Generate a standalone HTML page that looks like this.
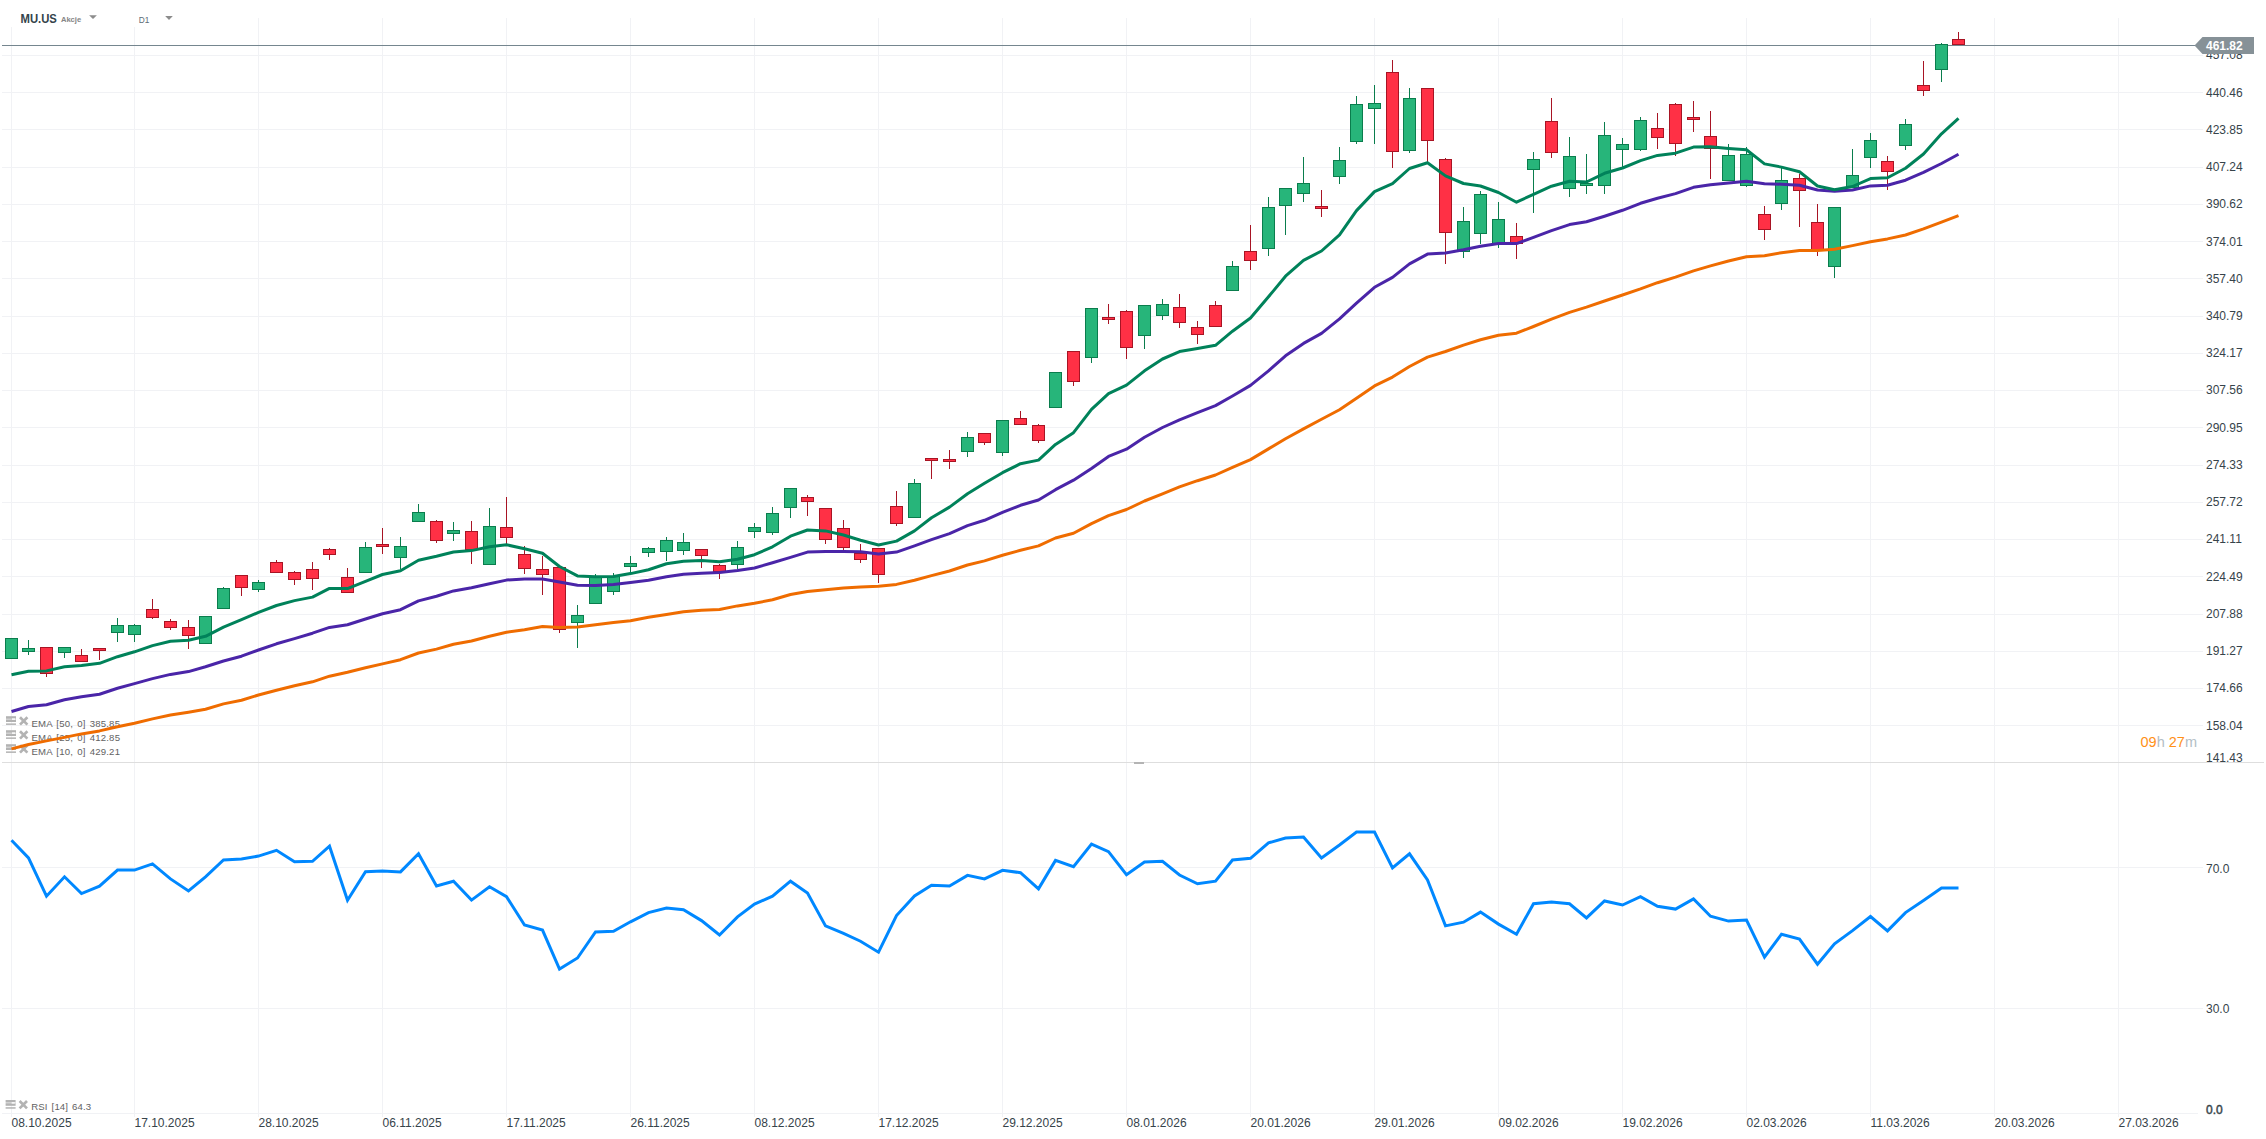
<!DOCTYPE html>
<html lang="pl"><head><meta charset="utf-8"><title>MU.US D1</title>
<style>html,body{margin:0;padding:0;background:#fff;overflow:hidden}svg{display:block}</style>
</head><body>
<svg width="2266" height="1139" viewBox="0 0 2266 1139" font-family='"Liberation Sans", Arial, sans-serif'>
<rect width="2266" height="1139" fill="#fff"/>
<g fill="#f1f2f5" shape-rendering="crispEdges">
<rect x="2" y="55" width="2201" height="1"/>
<rect x="2" y="92" width="2201" height="1"/>
<rect x="2" y="129" width="2201" height="1"/>
<rect x="2" y="167" width="2201" height="1"/>
<rect x="2" y="204" width="2201" height="1"/>
<rect x="2" y="241" width="2201" height="1"/>
<rect x="2" y="278" width="2201" height="1"/>
<rect x="2" y="316" width="2201" height="1"/>
<rect x="2" y="353" width="2201" height="1"/>
<rect x="2" y="390" width="2201" height="1"/>
<rect x="2" y="427" width="2201" height="1"/>
<rect x="2" y="465" width="2201" height="1"/>
<rect x="2" y="502" width="2201" height="1"/>
<rect x="2" y="539" width="2201" height="1"/>
<rect x="2" y="576" width="2201" height="1"/>
<rect x="2" y="614" width="2201" height="1"/>
<rect x="2" y="651" width="2201" height="1"/>
<rect x="2" y="688" width="2201" height="1"/>
<rect x="2" y="725" width="2201" height="1"/>
<rect x="2" y="867" width="2201" height="1"/>
<rect x="2" y="1008" width="2201" height="1"/>
<rect x="2" y="1113" width="2196" height="1"/>
<rect x="11" y="18" width="1" height="1099"/>
<rect x="134" y="18" width="1" height="1099"/>
<rect x="258" y="18" width="1" height="1099"/>
<rect x="382" y="18" width="1" height="1099"/>
<rect x="506" y="18" width="1" height="1099"/>
<rect x="630" y="18" width="1" height="1099"/>
<rect x="754" y="18" width="1" height="1099"/>
<rect x="878" y="18" width="1" height="1099"/>
<rect x="1002" y="18" width="1" height="1099"/>
<rect x="1126" y="18" width="1" height="1099"/>
<rect x="1250" y="18" width="1" height="1099"/>
<rect x="1374" y="18" width="1" height="1099"/>
<rect x="1498" y="18" width="1" height="1099"/>
<rect x="1622" y="18" width="1" height="1099"/>
<rect x="1746" y="18" width="1" height="1099"/>
<rect x="1870" y="18" width="1" height="1099"/>
<rect x="1994" y="18" width="1" height="1099"/>
<rect x="2118" y="18" width="1" height="1099"/>
</g>
<rect x="0" y="0" width="190" height="27" fill="#fff"/>
<rect x="2" y="762" width="2262" height="1" fill="#dedede" shape-rendering="crispEdges"/>
<rect x="1134" y="762" width="10" height="2" fill="#b4b4b4" shape-rendering="crispEdges"/>
<rect x="2" y="45" width="2196" height="1" fill="#75868f" shape-rendering="crispEdges"/>
<g fill="#b3b3b3"><rect x="6" y="716.1999999999999" width="10" height="2.6"/><rect x="6" y="719.4" width="10" height="2.6"/><rect x="6" y="723.4" width="10" height="1.5"/><rect x="12" y="718.4" width="3.2" height="1.4" fill="#fff"/></g><path d="M20 717.1999999999999L27.4 724.5999999999999M27.4 717.1999999999999L20 724.5999999999999" stroke="#b3b3b3" stroke-width="2.7" fill="none"/>
<text x="31.4" y="726.8" font-size="9.6" fill="#626262" word-spacing="1.2" textLength="88.6" lengthAdjust="spacing">EMA [50, 0] 385.85</text>
<g fill="#b3b3b3"><rect x="6" y="730.1999999999999" width="10" height="2.6"/><rect x="6" y="733.4" width="10" height="2.6"/><rect x="6" y="737.4" width="10" height="1.5"/><rect x="12" y="732.4" width="3.2" height="1.4" fill="#fff"/></g><path d="M20 731.1999999999999L27.4 738.5999999999999M27.4 731.1999999999999L20 738.5999999999999" stroke="#b3b3b3" stroke-width="2.7" fill="none"/>
<text x="31.4" y="740.8" font-size="9.6" fill="#626262" word-spacing="1.2" textLength="88.6" lengthAdjust="spacing">EMA [25, 0] 412.85</text>
<g fill="#b3b3b3"><rect x="6" y="744.1999999999999" width="10" height="2.6"/><rect x="6" y="747.4" width="10" height="2.6"/><rect x="6" y="751.4" width="10" height="1.5"/><rect x="12" y="746.4" width="3.2" height="1.4" fill="#fff"/></g><path d="M20 745.1999999999999L27.4 752.5999999999999M27.4 745.1999999999999L20 752.5999999999999" stroke="#b3b3b3" stroke-width="2.7" fill="none"/>
<text x="31.4" y="754.8" font-size="9.6" fill="#626262" word-spacing="1.2" textLength="88.6" lengthAdjust="spacing">EMA [10, 0] 429.21</text>
<g fill="#b3b3b3"><rect x="5.6" y="1100" width="10" height="2.6"/><rect x="5.6" y="1103.2" width="10" height="2.6"/><rect x="5.6" y="1107.2" width="10" height="1.5"/><rect x="11.6" y="1102.2" width="3.2" height="1.4" fill="#fff"/></g><path d="M19.6 1101L27.0 1108.4M27.0 1101L19.6 1108.4" stroke="#b3b3b3" stroke-width="2.7" fill="none"/>
<text x="31.3" y="1110.4" font-size="9.6" fill="#626262" word-spacing="1.2" textLength="59.8" lengthAdjust="spacing">RSI [14] 64.3</text>
<g shape-rendering="crispEdges">
<rect x="11" y="638" width="1" height="21" fill="#0a7d4d"/>
<rect x="5" y="638" width="13" height="21" fill="#0a7d4d"/>
<rect x="6" y="639" width="11" height="19" fill="#27b57a"/>
<rect x="28" y="640" width="1" height="15" fill="#0a7d4d"/>
<rect x="22" y="648" width="13" height="4" fill="#0a7d4d"/>
<rect x="23" y="649" width="11" height="2" fill="#27b57a"/>
<rect x="46" y="647" width="1" height="30" fill="#a81424"/>
<rect x="40" y="647" width="13" height="27" fill="#a81424"/>
<rect x="41" y="648" width="11" height="25" fill="#ff3045"/>
<rect x="64" y="647" width="1" height="11" fill="#0a7d4d"/>
<rect x="58" y="647" width="13" height="6" fill="#0a7d4d"/>
<rect x="59" y="648" width="11" height="4" fill="#27b57a"/>
<rect x="81" y="649" width="1" height="13" fill="#a81424"/>
<rect x="75" y="655" width="13" height="7" fill="#a81424"/>
<rect x="76" y="656" width="11" height="5" fill="#ff3045"/>
<rect x="99" y="648" width="1" height="12" fill="#a81424"/>
<rect x="93" y="648" width="13" height="3" fill="#a81424"/>
<rect x="94" y="649" width="11" height="1" fill="#ff3045"/>
<rect x="117" y="618" width="1" height="24" fill="#0a7d4d"/>
<rect x="111" y="625" width="13" height="8" fill="#0a7d4d"/>
<rect x="112" y="626" width="11" height="6" fill="#27b57a"/>
<rect x="134" y="624" width="1" height="18" fill="#0a7d4d"/>
<rect x="128" y="625" width="13" height="10" fill="#0a7d4d"/>
<rect x="129" y="626" width="11" height="8" fill="#27b57a"/>
<rect x="152" y="599" width="1" height="20" fill="#a81424"/>
<rect x="146" y="609" width="13" height="9" fill="#a81424"/>
<rect x="147" y="610" width="11" height="7" fill="#ff3045"/>
<rect x="170" y="619" width="1" height="11" fill="#a81424"/>
<rect x="164" y="621" width="13" height="7" fill="#a81424"/>
<rect x="165" y="622" width="11" height="5" fill="#ff3045"/>
<rect x="188" y="620" width="1" height="29" fill="#a81424"/>
<rect x="182" y="627" width="13" height="9" fill="#a81424"/>
<rect x="183" y="628" width="11" height="7" fill="#ff3045"/>
<rect x="205" y="616" width="1" height="28" fill="#0a7d4d"/>
<rect x="199" y="616" width="13" height="28" fill="#0a7d4d"/>
<rect x="200" y="617" width="11" height="26" fill="#27b57a"/>
<rect x="223" y="587" width="1" height="22" fill="#0a7d4d"/>
<rect x="217" y="588" width="13" height="21" fill="#0a7d4d"/>
<rect x="218" y="589" width="11" height="19" fill="#27b57a"/>
<rect x="241" y="575" width="1" height="21" fill="#a81424"/>
<rect x="235" y="575" width="13" height="13" fill="#a81424"/>
<rect x="236" y="576" width="11" height="11" fill="#ff3045"/>
<rect x="258" y="580" width="1" height="12" fill="#0a7d4d"/>
<rect x="252" y="582" width="13" height="8" fill="#0a7d4d"/>
<rect x="253" y="583" width="11" height="6" fill="#27b57a"/>
<rect x="276" y="560" width="1" height="13" fill="#a81424"/>
<rect x="270" y="562" width="13" height="11" fill="#a81424"/>
<rect x="271" y="563" width="11" height="9" fill="#ff3045"/>
<rect x="294" y="571" width="1" height="14" fill="#a81424"/>
<rect x="288" y="572" width="13" height="8" fill="#a81424"/>
<rect x="289" y="573" width="11" height="6" fill="#ff3045"/>
<rect x="312" y="562" width="1" height="28" fill="#a81424"/>
<rect x="306" y="569" width="13" height="10" fill="#a81424"/>
<rect x="307" y="570" width="11" height="8" fill="#ff3045"/>
<rect x="329" y="548" width="1" height="12" fill="#a81424"/>
<rect x="323" y="549" width="13" height="6" fill="#a81424"/>
<rect x="324" y="550" width="11" height="4" fill="#ff3045"/>
<rect x="347" y="568" width="1" height="25" fill="#a81424"/>
<rect x="341" y="577" width="13" height="16" fill="#a81424"/>
<rect x="342" y="578" width="11" height="14" fill="#ff3045"/>
<rect x="365" y="542" width="1" height="31" fill="#0a7d4d"/>
<rect x="359" y="547" width="13" height="26" fill="#0a7d4d"/>
<rect x="360" y="548" width="11" height="24" fill="#27b57a"/>
<rect x="382" y="528" width="1" height="26" fill="#a81424"/>
<rect x="376" y="544" width="13" height="3" fill="#a81424"/>
<rect x="377" y="545" width="11" height="1" fill="#ff3045"/>
<rect x="400" y="537" width="1" height="32" fill="#0a7d4d"/>
<rect x="394" y="546" width="13" height="12" fill="#0a7d4d"/>
<rect x="395" y="547" width="11" height="10" fill="#27b57a"/>
<rect x="418" y="504" width="1" height="18" fill="#0a7d4d"/>
<rect x="412" y="512" width="13" height="10" fill="#0a7d4d"/>
<rect x="413" y="513" width="11" height="8" fill="#27b57a"/>
<rect x="436" y="520" width="1" height="23" fill="#a81424"/>
<rect x="430" y="521" width="13" height="20" fill="#a81424"/>
<rect x="431" y="522" width="11" height="18" fill="#ff3045"/>
<rect x="453" y="522" width="1" height="19" fill="#0a7d4d"/>
<rect x="447" y="530" width="13" height="4" fill="#0a7d4d"/>
<rect x="448" y="531" width="11" height="2" fill="#27b57a"/>
<rect x="471" y="521" width="1" height="43" fill="#a81424"/>
<rect x="465" y="531" width="13" height="19" fill="#a81424"/>
<rect x="466" y="532" width="11" height="17" fill="#ff3045"/>
<rect x="489" y="508" width="1" height="57" fill="#0a7d4d"/>
<rect x="483" y="526" width="13" height="39" fill="#0a7d4d"/>
<rect x="484" y="527" width="11" height="37" fill="#27b57a"/>
<rect x="506" y="497" width="1" height="47" fill="#a81424"/>
<rect x="500" y="527" width="13" height="11" fill="#a81424"/>
<rect x="501" y="528" width="11" height="9" fill="#ff3045"/>
<rect x="524" y="546" width="1" height="28" fill="#a81424"/>
<rect x="518" y="554" width="13" height="15" fill="#a81424"/>
<rect x="519" y="555" width="11" height="13" fill="#ff3045"/>
<rect x="542" y="556" width="1" height="39" fill="#a81424"/>
<rect x="536" y="569" width="13" height="6" fill="#a81424"/>
<rect x="537" y="570" width="11" height="4" fill="#ff3045"/>
<rect x="559" y="567" width="1" height="66" fill="#a81424"/>
<rect x="553" y="567" width="13" height="63" fill="#a81424"/>
<rect x="554" y="568" width="11" height="61" fill="#ff3045"/>
<rect x="577" y="605" width="1" height="43" fill="#0a7d4d"/>
<rect x="571" y="615" width="13" height="8" fill="#0a7d4d"/>
<rect x="572" y="616" width="11" height="6" fill="#27b57a"/>
<rect x="595" y="574" width="1" height="30" fill="#0a7d4d"/>
<rect x="589" y="576" width="13" height="28" fill="#0a7d4d"/>
<rect x="590" y="577" width="11" height="26" fill="#27b57a"/>
<rect x="613" y="573" width="1" height="22" fill="#0a7d4d"/>
<rect x="607" y="576" width="13" height="16" fill="#0a7d4d"/>
<rect x="608" y="577" width="11" height="14" fill="#27b57a"/>
<rect x="630" y="556" width="1" height="17" fill="#0a7d4d"/>
<rect x="624" y="563" width="13" height="4" fill="#0a7d4d"/>
<rect x="625" y="564" width="11" height="2" fill="#27b57a"/>
<rect x="648" y="547" width="1" height="10" fill="#0a7d4d"/>
<rect x="642" y="548" width="13" height="5" fill="#0a7d4d"/>
<rect x="643" y="549" width="11" height="3" fill="#27b57a"/>
<rect x="666" y="537" width="1" height="24" fill="#0a7d4d"/>
<rect x="660" y="540" width="13" height="12" fill="#0a7d4d"/>
<rect x="661" y="541" width="11" height="10" fill="#27b57a"/>
<rect x="683" y="533" width="1" height="22" fill="#0a7d4d"/>
<rect x="677" y="542" width="13" height="9" fill="#0a7d4d"/>
<rect x="678" y="543" width="11" height="7" fill="#27b57a"/>
<rect x="701" y="549" width="1" height="19" fill="#a81424"/>
<rect x="695" y="549" width="13" height="7" fill="#a81424"/>
<rect x="696" y="550" width="11" height="5" fill="#ff3045"/>
<rect x="719" y="564" width="1" height="15" fill="#a81424"/>
<rect x="713" y="565" width="13" height="7" fill="#a81424"/>
<rect x="714" y="566" width="11" height="5" fill="#ff3045"/>
<rect x="737" y="541" width="1" height="28" fill="#0a7d4d"/>
<rect x="731" y="547" width="13" height="18" fill="#0a7d4d"/>
<rect x="732" y="548" width="11" height="16" fill="#27b57a"/>
<rect x="754" y="523" width="1" height="15" fill="#0a7d4d"/>
<rect x="748" y="527" width="13" height="5" fill="#0a7d4d"/>
<rect x="749" y="528" width="11" height="3" fill="#27b57a"/>
<rect x="772" y="507" width="1" height="28" fill="#0a7d4d"/>
<rect x="766" y="513" width="13" height="20" fill="#0a7d4d"/>
<rect x="767" y="514" width="11" height="18" fill="#27b57a"/>
<rect x="790" y="488" width="1" height="30" fill="#0a7d4d"/>
<rect x="784" y="488" width="13" height="20" fill="#0a7d4d"/>
<rect x="785" y="489" width="11" height="18" fill="#27b57a"/>
<rect x="807" y="495" width="1" height="21" fill="#a81424"/>
<rect x="801" y="497" width="13" height="5" fill="#a81424"/>
<rect x="802" y="498" width="11" height="3" fill="#ff3045"/>
<rect x="825" y="508" width="1" height="36" fill="#a81424"/>
<rect x="819" y="508" width="13" height="32" fill="#a81424"/>
<rect x="820" y="509" width="11" height="30" fill="#ff3045"/>
<rect x="843" y="520" width="1" height="31" fill="#a81424"/>
<rect x="837" y="528" width="13" height="20" fill="#a81424"/>
<rect x="838" y="529" width="11" height="18" fill="#ff3045"/>
<rect x="860" y="544" width="1" height="19" fill="#a81424"/>
<rect x="854" y="553" width="13" height="7" fill="#a81424"/>
<rect x="855" y="554" width="11" height="5" fill="#ff3045"/>
<rect x="878" y="548" width="1" height="35" fill="#a81424"/>
<rect x="872" y="548" width="13" height="27" fill="#a81424"/>
<rect x="873" y="549" width="11" height="25" fill="#ff3045"/>
<rect x="896" y="491" width="1" height="35" fill="#a81424"/>
<rect x="890" y="506" width="13" height="18" fill="#a81424"/>
<rect x="891" y="507" width="11" height="16" fill="#ff3045"/>
<rect x="914" y="479" width="1" height="39" fill="#0a7d4d"/>
<rect x="908" y="483" width="13" height="35" fill="#0a7d4d"/>
<rect x="909" y="484" width="11" height="33" fill="#27b57a"/>
<rect x="931" y="458" width="1" height="21" fill="#a81424"/>
<rect x="925" y="458" width="13" height="3" fill="#a81424"/>
<rect x="926" y="459" width="11" height="1" fill="#ff3045"/>
<rect x="949" y="450" width="1" height="19" fill="#a81424"/>
<rect x="943" y="459" width="13" height="3" fill="#a81424"/>
<rect x="944" y="460" width="11" height="1" fill="#ff3045"/>
<rect x="967" y="432" width="1" height="25" fill="#0a7d4d"/>
<rect x="961" y="437" width="13" height="15" fill="#0a7d4d"/>
<rect x="962" y="438" width="11" height="13" fill="#27b57a"/>
<rect x="984" y="433" width="1" height="12" fill="#a81424"/>
<rect x="978" y="433" width="13" height="10" fill="#a81424"/>
<rect x="979" y="434" width="11" height="8" fill="#ff3045"/>
<rect x="1002" y="420" width="1" height="36" fill="#0a7d4d"/>
<rect x="996" y="420" width="13" height="33" fill="#0a7d4d"/>
<rect x="997" y="421" width="11" height="31" fill="#27b57a"/>
<rect x="1020" y="411" width="1" height="14" fill="#a81424"/>
<rect x="1014" y="418" width="13" height="7" fill="#a81424"/>
<rect x="1015" y="419" width="11" height="5" fill="#ff3045"/>
<rect x="1038" y="424" width="1" height="19" fill="#a81424"/>
<rect x="1032" y="425" width="13" height="16" fill="#a81424"/>
<rect x="1033" y="426" width="11" height="14" fill="#ff3045"/>
<rect x="1055" y="372" width="1" height="36" fill="#0a7d4d"/>
<rect x="1049" y="372" width="13" height="36" fill="#0a7d4d"/>
<rect x="1050" y="373" width="11" height="34" fill="#27b57a"/>
<rect x="1073" y="351" width="1" height="35" fill="#a81424"/>
<rect x="1067" y="351" width="13" height="31" fill="#a81424"/>
<rect x="1068" y="352" width="11" height="29" fill="#ff3045"/>
<rect x="1091" y="308" width="1" height="55" fill="#0a7d4d"/>
<rect x="1085" y="308" width="13" height="50" fill="#0a7d4d"/>
<rect x="1086" y="309" width="11" height="48" fill="#27b57a"/>
<rect x="1108" y="304" width="1" height="20" fill="#a81424"/>
<rect x="1102" y="317" width="13" height="3" fill="#a81424"/>
<rect x="1103" y="318" width="11" height="1" fill="#ff3045"/>
<rect x="1126" y="310" width="1" height="49" fill="#a81424"/>
<rect x="1120" y="311" width="13" height="37" fill="#a81424"/>
<rect x="1121" y="312" width="11" height="35" fill="#ff3045"/>
<rect x="1144" y="305" width="1" height="44" fill="#0a7d4d"/>
<rect x="1138" y="305" width="13" height="31" fill="#0a7d4d"/>
<rect x="1139" y="306" width="11" height="29" fill="#27b57a"/>
<rect x="1162" y="299" width="1" height="21" fill="#0a7d4d"/>
<rect x="1156" y="304" width="13" height="12" fill="#0a7d4d"/>
<rect x="1157" y="305" width="11" height="10" fill="#27b57a"/>
<rect x="1179" y="294" width="1" height="34" fill="#a81424"/>
<rect x="1173" y="307" width="13" height="16" fill="#a81424"/>
<rect x="1174" y="308" width="11" height="14" fill="#ff3045"/>
<rect x="1197" y="321" width="1" height="23" fill="#a81424"/>
<rect x="1191" y="327" width="13" height="8" fill="#a81424"/>
<rect x="1192" y="328" width="11" height="6" fill="#ff3045"/>
<rect x="1215" y="301" width="1" height="26" fill="#a81424"/>
<rect x="1209" y="305" width="13" height="22" fill="#a81424"/>
<rect x="1210" y="306" width="11" height="20" fill="#ff3045"/>
<rect x="1232" y="261" width="1" height="30" fill="#0a7d4d"/>
<rect x="1226" y="266" width="13" height="25" fill="#0a7d4d"/>
<rect x="1227" y="267" width="11" height="23" fill="#27b57a"/>
<rect x="1250" y="225" width="1" height="45" fill="#a81424"/>
<rect x="1244" y="251" width="13" height="10" fill="#a81424"/>
<rect x="1245" y="252" width="11" height="8" fill="#ff3045"/>
<rect x="1268" y="197" width="1" height="59" fill="#0a7d4d"/>
<rect x="1262" y="207" width="13" height="42" fill="#0a7d4d"/>
<rect x="1263" y="208" width="11" height="40" fill="#27b57a"/>
<rect x="1285" y="188" width="1" height="47" fill="#0a7d4d"/>
<rect x="1279" y="188" width="13" height="18" fill="#0a7d4d"/>
<rect x="1280" y="189" width="11" height="16" fill="#27b57a"/>
<rect x="1303" y="157" width="1" height="45" fill="#0a7d4d"/>
<rect x="1297" y="183" width="13" height="11" fill="#0a7d4d"/>
<rect x="1298" y="184" width="11" height="9" fill="#27b57a"/>
<rect x="1321" y="190" width="1" height="27" fill="#a81424"/>
<rect x="1315" y="206" width="13" height="3" fill="#a81424"/>
<rect x="1316" y="207" width="11" height="1" fill="#ff3045"/>
<rect x="1339" y="147" width="1" height="37" fill="#0a7d4d"/>
<rect x="1333" y="160" width="13" height="17" fill="#0a7d4d"/>
<rect x="1334" y="161" width="11" height="15" fill="#27b57a"/>
<rect x="1356" y="96" width="1" height="48" fill="#0a7d4d"/>
<rect x="1350" y="104" width="13" height="38" fill="#0a7d4d"/>
<rect x="1351" y="105" width="11" height="36" fill="#27b57a"/>
<rect x="1374" y="85" width="1" height="59" fill="#0a7d4d"/>
<rect x="1368" y="103" width="13" height="6" fill="#0a7d4d"/>
<rect x="1369" y="104" width="11" height="4" fill="#27b57a"/>
<rect x="1392" y="60" width="1" height="108" fill="#a81424"/>
<rect x="1386" y="72" width="13" height="80" fill="#a81424"/>
<rect x="1387" y="73" width="11" height="78" fill="#ff3045"/>
<rect x="1409" y="88" width="1" height="65" fill="#0a7d4d"/>
<rect x="1403" y="98" width="13" height="53" fill="#0a7d4d"/>
<rect x="1404" y="99" width="11" height="51" fill="#27b57a"/>
<rect x="1427" y="88" width="1" height="74" fill="#a81424"/>
<rect x="1421" y="88" width="13" height="53" fill="#a81424"/>
<rect x="1422" y="89" width="11" height="51" fill="#ff3045"/>
<rect x="1445" y="158" width="1" height="106" fill="#a81424"/>
<rect x="1439" y="159" width="13" height="74" fill="#a81424"/>
<rect x="1440" y="160" width="11" height="72" fill="#ff3045"/>
<rect x="1463" y="207" width="1" height="51" fill="#0a7d4d"/>
<rect x="1457" y="221" width="13" height="31" fill="#0a7d4d"/>
<rect x="1458" y="222" width="11" height="29" fill="#27b57a"/>
<rect x="1480" y="191" width="1" height="53" fill="#0a7d4d"/>
<rect x="1474" y="194" width="13" height="40" fill="#0a7d4d"/>
<rect x="1475" y="195" width="11" height="38" fill="#27b57a"/>
<rect x="1498" y="202" width="1" height="46" fill="#0a7d4d"/>
<rect x="1492" y="219" width="13" height="25" fill="#0a7d4d"/>
<rect x="1493" y="220" width="11" height="23" fill="#27b57a"/>
<rect x="1516" y="223" width="1" height="36" fill="#a81424"/>
<rect x="1510" y="236" width="13" height="8" fill="#a81424"/>
<rect x="1511" y="237" width="11" height="6" fill="#ff3045"/>
<rect x="1533" y="152" width="1" height="61" fill="#0a7d4d"/>
<rect x="1527" y="159" width="13" height="11" fill="#0a7d4d"/>
<rect x="1528" y="160" width="11" height="9" fill="#27b57a"/>
<rect x="1551" y="98" width="1" height="60" fill="#a81424"/>
<rect x="1545" y="121" width="13" height="32" fill="#a81424"/>
<rect x="1546" y="122" width="11" height="30" fill="#ff3045"/>
<rect x="1569" y="137" width="1" height="60" fill="#0a7d4d"/>
<rect x="1563" y="156" width="13" height="33" fill="#0a7d4d"/>
<rect x="1564" y="157" width="11" height="31" fill="#27b57a"/>
<rect x="1586" y="154" width="1" height="40" fill="#0a7d4d"/>
<rect x="1580" y="183" width="13" height="3" fill="#0a7d4d"/>
<rect x="1581" y="184" width="11" height="1" fill="#27b57a"/>
<rect x="1604" y="122" width="1" height="72" fill="#0a7d4d"/>
<rect x="1598" y="135" width="13" height="51" fill="#0a7d4d"/>
<rect x="1599" y="136" width="11" height="49" fill="#27b57a"/>
<rect x="1622" y="138" width="1" height="29" fill="#0a7d4d"/>
<rect x="1616" y="144" width="13" height="6" fill="#0a7d4d"/>
<rect x="1617" y="145" width="11" height="4" fill="#27b57a"/>
<rect x="1640" y="117" width="1" height="34" fill="#0a7d4d"/>
<rect x="1634" y="120" width="13" height="30" fill="#0a7d4d"/>
<rect x="1635" y="121" width="11" height="28" fill="#27b57a"/>
<rect x="1657" y="113" width="1" height="36" fill="#a81424"/>
<rect x="1651" y="128" width="13" height="10" fill="#a81424"/>
<rect x="1652" y="129" width="11" height="8" fill="#ff3045"/>
<rect x="1675" y="103" width="1" height="53" fill="#a81424"/>
<rect x="1669" y="104" width="13" height="40" fill="#a81424"/>
<rect x="1670" y="105" width="11" height="38" fill="#ff3045"/>
<rect x="1693" y="101" width="1" height="31" fill="#a81424"/>
<rect x="1687" y="117" width="13" height="3" fill="#a81424"/>
<rect x="1688" y="118" width="11" height="1" fill="#ff3045"/>
<rect x="1710" y="111" width="1" height="68" fill="#a81424"/>
<rect x="1704" y="136" width="13" height="13" fill="#a81424"/>
<rect x="1705" y="137" width="11" height="11" fill="#ff3045"/>
<rect x="1728" y="144" width="1" height="37" fill="#0a7d4d"/>
<rect x="1722" y="155" width="13" height="26" fill="#0a7d4d"/>
<rect x="1723" y="156" width="11" height="24" fill="#27b57a"/>
<rect x="1746" y="147" width="1" height="40" fill="#0a7d4d"/>
<rect x="1740" y="154" width="13" height="32" fill="#0a7d4d"/>
<rect x="1741" y="155" width="11" height="30" fill="#27b57a"/>
<rect x="1764" y="206" width="1" height="34" fill="#a81424"/>
<rect x="1758" y="214" width="13" height="16" fill="#a81424"/>
<rect x="1759" y="215" width="11" height="14" fill="#ff3045"/>
<rect x="1781" y="168" width="1" height="42" fill="#0a7d4d"/>
<rect x="1775" y="180" width="13" height="24" fill="#0a7d4d"/>
<rect x="1776" y="181" width="11" height="22" fill="#27b57a"/>
<rect x="1799" y="174" width="1" height="53" fill="#a81424"/>
<rect x="1793" y="178" width="13" height="13" fill="#a81424"/>
<rect x="1794" y="179" width="11" height="11" fill="#ff3045"/>
<rect x="1817" y="204" width="1" height="52" fill="#a81424"/>
<rect x="1811" y="222" width="13" height="28" fill="#a81424"/>
<rect x="1812" y="223" width="11" height="26" fill="#ff3045"/>
<rect x="1834" y="207" width="1" height="71" fill="#0a7d4d"/>
<rect x="1828" y="207" width="13" height="60" fill="#0a7d4d"/>
<rect x="1829" y="208" width="11" height="58" fill="#27b57a"/>
<rect x="1852" y="149" width="1" height="39" fill="#0a7d4d"/>
<rect x="1846" y="175" width="13" height="13" fill="#0a7d4d"/>
<rect x="1847" y="176" width="11" height="11" fill="#27b57a"/>
<rect x="1870" y="133" width="1" height="35" fill="#0a7d4d"/>
<rect x="1864" y="140" width="13" height="18" fill="#0a7d4d"/>
<rect x="1865" y="141" width="11" height="16" fill="#27b57a"/>
<rect x="1887" y="156" width="1" height="34" fill="#a81424"/>
<rect x="1881" y="161" width="13" height="11" fill="#a81424"/>
<rect x="1882" y="162" width="11" height="9" fill="#ff3045"/>
<rect x="1905" y="119" width="1" height="31" fill="#0a7d4d"/>
<rect x="1899" y="124" width="13" height="22" fill="#0a7d4d"/>
<rect x="1900" y="125" width="11" height="20" fill="#27b57a"/>
<rect x="1923" y="61" width="1" height="35" fill="#a81424"/>
<rect x="1917" y="85" width="13" height="6" fill="#a81424"/>
<rect x="1918" y="86" width="11" height="4" fill="#ff3045"/>
<rect x="1941" y="43" width="1" height="39" fill="#0a7d4d"/>
<rect x="1935" y="44" width="13" height="26" fill="#0a7d4d"/>
<rect x="1936" y="45" width="11" height="24" fill="#27b57a"/>
<rect x="1958" y="32" width="1" height="13" fill="#a81424"/>
<rect x="1952" y="39" width="13" height="6" fill="#a81424"/>
<rect x="1953" y="40" width="11" height="4" fill="#ff3045"/>
</g>
<polyline points="11.5,748.9 28.5,744.5 46.5,740.9 64.5,737.4 81.5,733.9 99.5,730.9 117.5,726.8 134.5,723.3 152.5,718.9 170.5,715.0 188.5,712.2 205.5,709.2 223.5,703.9 241.5,700.3 258.5,695.0 276.5,690.3 294.5,685.7 312.5,681.8 329.5,676.2 347.5,672.3 365.5,667.8 382.5,663.9 400.5,659.7 418.5,653.0 436.5,649.1 453.5,644.2 471.5,641.0 489.5,636.2 506.5,632.2 524.5,629.7 542.5,626.5 559.5,627.6 577.5,626.9 595.5,624.7 613.5,622.6 630.5,620.7 648.5,617.3 666.5,614.5 683.5,611.8 701.5,610.3 719.5,609.5 737.5,605.9 754.5,603.3 772.5,599.8 790.5,594.5 807.5,591.5 825.5,589.7 843.5,587.9 860.5,586.9 878.5,586.2 896.5,584.4 914.5,580.3 931.5,575.6 949.5,571.0 967.5,565.0 984.5,560.9 1002.5,555.3 1020.5,550.3 1038.5,545.9 1055.5,538.0 1073.5,533.3 1091.5,523.6 1108.5,515.6 1126.5,509.5 1144.5,501.0 1162.5,493.9 1179.5,486.9 1197.5,480.7 1215.5,475.0 1232.5,467.3 1250.5,459.6 1268.5,448.9 1285.5,438.7 1303.5,428.9 1321.5,419.3 1339.5,409.7 1356.5,398.3 1374.5,385.9 1392.5,377.1 1409.5,366.5 1427.5,357.1 1445.5,351.5 1463.5,345.1 1480.5,339.8 1498.5,335.3 1516.5,333.2 1533.5,326.5 1551.5,319.1 1569.5,312.4 1586.5,307.1 1604.5,301.0 1622.5,295.0 1640.5,288.9 1657.5,282.7 1675.5,277.1 1693.5,270.9 1710.5,265.9 1728.5,261.0 1746.5,256.8 1764.5,255.7 1781.5,252.7 1799.5,250.6 1817.5,250.6 1834.5,249.2 1852.5,245.6 1870.5,241.7 1887.5,238.9 1905.5,235.0 1923.5,228.9 1941.5,222.2 1958.5,215.6" fill="none" stroke="#ef6c00" stroke-width="3" stroke-linejoin="round"/>
<polyline points="11.5,711.5 28.5,706.5 46.5,704.7 64.5,699.8 81.5,696.8 99.5,694.2 117.5,688.3 134.5,683.6 152.5,678.6 170.5,674.4 188.5,671.6 205.5,666.8 223.5,661.0 241.5,656.2 258.5,650.0 276.5,643.8 294.5,638.6 312.5,633.2 329.5,627.4 347.5,624.8 365.5,619.0 382.5,613.8 400.5,609.7 418.5,600.9 436.5,596.2 453.5,590.9 471.5,587.7 489.5,583.8 506.5,580.1 524.5,578.9 542.5,578.9 559.5,582.0 577.5,585.2 595.5,585.4 613.5,584.5 630.5,582.4 648.5,580.3 666.5,576.7 683.5,574.3 701.5,573.3 719.5,572.4 737.5,570.6 754.5,568.0 772.5,562.7 790.5,557.4 807.5,552.1 825.5,551.6 843.5,551.6 860.5,551.7 878.5,553.9 896.5,552.1 914.5,545.9 931.5,539.7 949.5,533.6 967.5,525.6 984.5,520.3 1002.5,512.4 1020.5,505.3 1038.5,500.0 1055.5,489.7 1073.5,480.2 1091.5,468.4 1108.5,456.4 1126.5,449.2 1144.5,437.2 1162.5,427.5 1179.5,419.8 1197.5,412.7 1215.5,405.6 1232.5,396.0 1250.5,385.4 1268.5,370.9 1285.5,355.8 1303.5,343.4 1321.5,333.4 1339.5,318.9 1356.5,303.2 1374.5,287.3 1392.5,277.4 1409.5,263.9 1427.5,254.1 1445.5,252.9 1463.5,249.7 1480.5,246.2 1498.5,243.6 1516.5,243.6 1533.5,237.4 1551.5,230.7 1569.5,224.6 1586.5,221.7 1604.5,216.2 1622.5,210.3 1640.5,203.3 1657.5,198.2 1675.5,193.6 1693.5,187.3 1710.5,184.7 1728.5,183.0 1746.5,181.2 1764.5,183.8 1781.5,184.2 1799.5,185.3 1817.5,190.0 1834.5,191.3 1852.5,190.0 1870.5,185.9 1887.5,185.2 1905.5,180.2 1923.5,172.4 1941.5,163.5 1958.5,154.2" fill="none" stroke="#4a25a8" stroke-width="3" stroke-linejoin="round"/>
<polyline points="11.5,674.7 28.5,671.2 46.5,670.9 64.5,666.8 81.5,665.6 99.5,663.3 117.5,656.7 134.5,651.8 152.5,645.6 170.5,641.2 188.5,640.3 205.5,636.3 223.5,627.1 241.5,619.7 258.5,612.4 276.5,605.5 294.5,600.6 312.5,597.1 329.5,588.4 347.5,588.6 365.5,581.4 382.5,574.5 400.5,570.7 418.5,560.3 436.5,556.3 453.5,552.0 471.5,550.6 489.5,546.7 506.5,544.8 524.5,548.8 542.5,553.3 559.5,566.5 577.5,575.9 595.5,576.7 613.5,576.6 630.5,573.6 648.5,569.7 666.5,563.8 683.5,561.3 701.5,560.4 719.5,561.8 737.5,559.2 754.5,554.7 772.5,546.8 790.5,536.2 807.5,530.0 825.5,530.9 843.5,535.0 860.5,540.3 878.5,545.0 896.5,541.1 914.5,530.9 931.5,517.7 949.5,507.1 967.5,493.8 984.5,483.3 1002.5,472.7 1020.5,463.7 1038.5,460.1 1055.5,444.4 1073.5,432.7 1091.5,409.4 1108.5,393.6 1126.5,385.2 1144.5,370.8 1162.5,359.0 1179.5,351.6 1197.5,348.6 1215.5,345.3 1232.5,331.2 1250.5,318.0 1268.5,296.8 1285.5,276.2 1303.5,260.3 1321.5,251.0 1339.5,234.9 1356.5,210.6 1374.5,191.6 1392.5,183.7 1409.5,168.5 1427.5,162.7 1445.5,175.9 1463.5,183.5 1480.5,186.0 1498.5,192.5 1516.5,202.2 1533.5,194.3 1551.5,186.2 1569.5,181.3 1586.5,182.0 1604.5,173.3 1622.5,168.0 1640.5,160.6 1657.5,155.4 1675.5,153.2 1693.5,147.1 1710.5,146.8 1728.5,148.5 1746.5,149.8 1764.5,163.9 1781.5,167.1 1799.5,171.8 1817.5,186.0 1834.5,189.7 1852.5,186.5 1870.5,178.6 1887.5,177.8 1905.5,168.2 1923.5,154.0 1941.5,133.8 1958.5,118.4" fill="none" stroke="#00825a" stroke-width="3" stroke-linejoin="round"/>
<polyline points="11.5,840.2 28.5,857.9 46.5,896.2 64.5,876.8 81.5,893.6 99.5,886.1 117.5,870.1 134.5,870.1 152.5,863.9 170.5,878.9 188.5,890.9 205.5,876.8 223.5,860.0 241.5,859.1 258.5,856.1 276.5,850.3 294.5,861.8 312.5,861.3 329.5,846.2 347.5,900.3 365.5,871.8 382.5,871.1 400.5,871.9 418.5,853.8 436.5,886.0 453.5,881.2 471.5,900.1 489.5,886.8 506.5,896.7 524.5,925.0 542.5,930.1 559.5,969.1 577.5,958.0 595.5,931.9 613.5,931.2 630.5,921.8 648.5,912.6 666.5,908.0 683.5,909.8 701.5,920.6 719.5,935.0 737.5,916.9 754.5,904.1 772.5,896.2 790.5,881.2 807.5,893.0 825.5,925.9 843.5,933.3 860.5,941.2 878.5,952.2 896.5,915.6 914.5,895.9 931.5,885.3 949.5,886.1 967.5,875.4 984.5,878.9 1002.5,870.3 1020.5,872.7 1038.5,888.8 1055.5,860.4 1073.5,866.7 1091.5,844.1 1108.5,851.7 1126.5,874.7 1144.5,862.0 1162.5,861.3 1179.5,875.0 1197.5,883.8 1215.5,881.2 1232.5,860.0 1250.5,858.3 1268.5,842.9 1285.5,838.0 1303.5,837.1 1321.5,857.9 1339.5,845.0 1356.5,832.1 1374.5,832.1 1392.5,868.0 1409.5,853.8 1427.5,880.0 1445.5,925.9 1463.5,922.2 1480.5,912.1 1498.5,924.1 1516.5,934.2 1533.5,903.7 1551.5,901.9 1569.5,903.8 1586.5,917.9 1604.5,901.0 1622.5,905.0 1640.5,896.7 1657.5,906.3 1675.5,909.1 1693.5,898.9 1710.5,916.2 1728.5,921.1 1746.5,920.0 1764.5,957.1 1781.5,934.2 1799.5,939.1 1817.5,964.2 1834.5,943.9 1852.5,930.6 1870.5,916.5 1887.5,930.9 1905.5,912.6 1923.5,900.4 1941.5,888.0 1958.5,888.0" fill="none" stroke="#0088ff" stroke-width="3" stroke-linejoin="miter"/>
<g font-size="12" fill="#36434a">
<text x="2206" y="59.35">457.08</text>
<text x="2206" y="96.58">440.46</text>
<text x="2206" y="133.82">423.85</text>
<text x="2206" y="171.05">407.24</text>
<text x="2206" y="208.29">390.62</text>
<text x="2206" y="245.53">374.01</text>
<text x="2206" y="282.76">357.40</text>
<text x="2206" y="320.00">340.79</text>
<text x="2206" y="357.23">324.17</text>
<text x="2206" y="394.47">307.56</text>
<text x="2206" y="431.70">290.95</text>
<text x="2206" y="468.94">274.33</text>
<text x="2206" y="506.17">257.72</text>
<text x="2206" y="543.41">241.11</text>
<text x="2206" y="580.64">224.49</text>
<text x="2206" y="617.88">207.88</text>
<text x="2206" y="655.11">191.27</text>
<text x="2206" y="692.35">174.66</text>
<text x="2206" y="729.58">158.04</text>
<text x="2206" y="761.8">141.43</text>
<text x="2206" y="873">70.0</text>
<text x="2206" y="1012.8">30.0</text>
<text x="2206" y="1114" stroke="#3a474e" stroke-width=".45">0.0</text>
<text x="11.5" y="1126.9">08.10.2025</text>
<text x="134.5" y="1126.9">17.10.2025</text>
<text x="258.5" y="1126.9">28.10.2025</text>
<text x="382.5" y="1126.9">06.11.2025</text>
<text x="506.5" y="1126.9">17.11.2025</text>
<text x="630.5" y="1126.9">26.11.2025</text>
<text x="754.5" y="1126.9">08.12.2025</text>
<text x="878.5" y="1126.9">17.12.2025</text>
<text x="1002.5" y="1126.9">29.12.2025</text>
<text x="1126.5" y="1126.9">08.01.2026</text>
<text x="1250.5" y="1126.9">20.01.2026</text>
<text x="1374.5" y="1126.9">29.01.2026</text>
<text x="1498.5" y="1126.9">09.02.2026</text>
<text x="1622.5" y="1126.9">19.02.2026</text>
<text x="1746.5" y="1126.9">02.03.2026</text>
<text x="1870.5" y="1126.9">11.03.2026</text>
<text x="1994.5" y="1126.9">20.03.2026</text>
<text x="2118.5" y="1126.9">27.03.2026</text>
</g>
<path d="M2194.5 45.5L2202.5 37H2254V54H2202.5Z" fill="#869197"/>
<text x="2206" y="49.8" font-size="12" font-weight="bold" fill="#fff">461.82</text>
<text x="2197" y="747" font-size="14.5" text-anchor="end" fill="#b3bec5"><tspan fill="#ff9018">09</tspan>h <tspan fill="#ff9018">27</tspan>m</text>
<text x="20.5" y="22.8" font-size="12.1" font-weight="bold" fill="#33434b" textLength="36.4" lengthAdjust="spacingAndGlyphs">MU.US</text>
<text x="60.9" y="21.9" font-size="7.8" font-weight="bold" fill="#858585" textLength="20.3" lengthAdjust="spacingAndGlyphs">Akcje</text>
<path d="M89.1 15.2H96.9L93 19Z" fill="#8c8c8c"/>
<text x="138.7" y="22.9" font-size="9.7" fill="#5c6c76" textLength="10.6" lengthAdjust="spacingAndGlyphs">D1</text>
<path d="M165.2 16.1H172.8L169 19.9Z" fill="#8c8c8c"/>
</svg>
</body></html>
